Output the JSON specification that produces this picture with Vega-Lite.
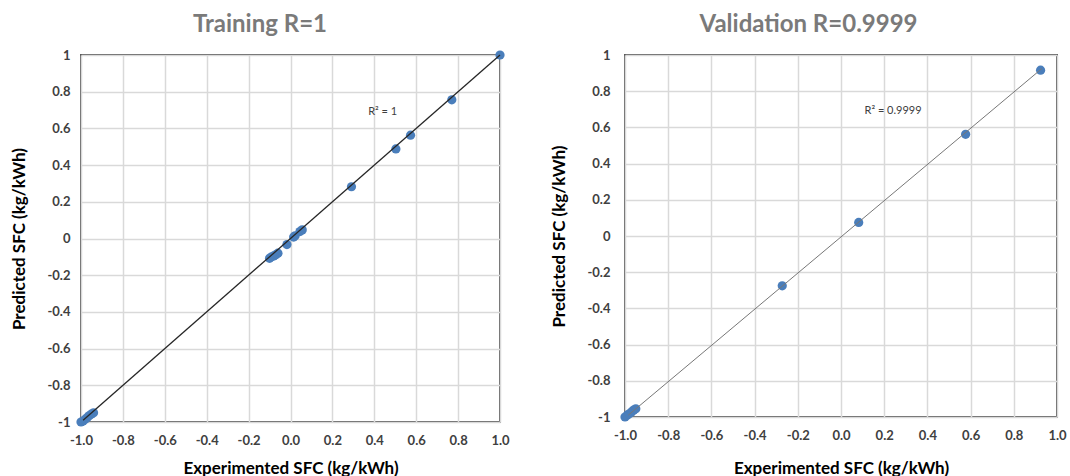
{
  "$schema": "https://vega.github.io/schema/vega-lite/v6.json",
  "background": "white",
  "padding": {"left": 9, "top": 12, "right": 5, "bottom": 0},
  "bounds": "flush",
  "spacing": 125,
  "datasets": {
    "train": [
      {"exp": 1.0, "pred": 1.0},
      {"exp": 0.77, "pred": 0.756},
      {"exp": 0.573, "pred": 0.563},
      {"exp": 0.503, "pred": 0.488},
      {"exp": 0.291, "pred": 0.282},
      {"exp": 0.056, "pred": 0.047},
      {"exp": 0.045, "pred": 0.038},
      {"exp": 0.022, "pred": 0.015},
      {"exp": 0.015, "pred": 0.008},
      {"exp": -0.017, "pred": -0.033},
      {"exp": -0.06, "pred": -0.08},
      {"exp": -0.07, "pred": -0.088},
      {"exp": -0.08, "pred": -0.095},
      {"exp": -0.09, "pred": -0.1},
      {"exp": -0.1, "pred": -0.108},
      {"exp": -1.0, "pred": -1.0},
      {"exp": -0.99, "pred": -0.995},
      {"exp": -0.98, "pred": -0.985},
      {"exp": -0.97, "pred": -0.975},
      {"exp": -0.96, "pred": -0.965},
      {"exp": -0.95, "pred": -0.957},
      {"exp": -0.94, "pred": -0.95}
    ],
    "trainLine": [
      {"exp": -0.99, "pred": -0.99},
      {"exp": 1.0, "pred": 1.0}
    ],
    "trainR2": [
      {"exp": 0.44, "pred": 0.69, "label": "R² = 1"}
    ],
    "val": [
      {"exp": 0.924, "pred": 0.916},
      {"exp": 0.577, "pred": 0.562},
      {"exp": 0.082, "pred": 0.075},
      {"exp": -0.272, "pred": -0.275},
      {"exp": -1.0, "pred": -1.0},
      {"exp": -0.99, "pred": -0.99},
      {"exp": -0.98, "pred": -0.982},
      {"exp": -0.97, "pred": -0.972},
      {"exp": -0.96, "pred": -0.962},
      {"exp": -0.95, "pred": -0.955}
    ],
    "valLine": [
      {"exp": -0.985, "pred": -0.99},
      {"exp": 0.93, "pred": 0.925}
    ],
    "valR2": [
      {"exp": 0.241, "pred": 0.688, "label": "R² = 0.9999"}
    ]
  },
  "hconcat": [
    {
      "width": 419,
      "height": 367,
      "title": {"text": "Training R=1", "frame": "bounds", "anchor": "middle", "offset": 12},
      "encoding": {
        "x": {"field": "exp", "type": "quantitative", "scale": {"domain": [-1, 1], "nice": false, "zero": false},
          "axis": {"title": "Experimented SFC (kg/kWh)", "values": [-1, -0.8, -0.6, -0.4, -0.2, 0, 0.2, 0.4, 0.6, 0.8, 1],
            "labelExpr": "replace(format(datum.value, '.1f'), '\u2212', '-')", "labelPadding": 12, "titlePadding": 13,
            "labelOverlap": false, "labelFlush": false, "labelBound": false}},
        "y": {"field": "pred", "type": "quantitative", "scale": {"domain": [-1, 1], "nice": false, "zero": false},
          "axis": {"title": "Predicted SFC (kg/kWh)", "values": [-1, -0.8, -0.6, -0.4, -0.2, 0, 0.2, 0.4, 0.6, 0.8, 1],
            "labelExpr": "'' + datum.value", "labelPadding": 11, "titlePadding": 18,
            "labelOverlap": false, "labelFlush": false, "labelBound": false}}
      },
      "layer": [
        {
          "data": {"name": "train"},
          "mark": {"type": "circle", "size": 85, "opacity": 1, "color": "#4a7ebb"}
        },
        {
          "data": {"name": "trainLine"},
          "mark": {"type": "line", "color": "#262626", "strokeWidth": 1.3}
        },
        {
          "data": {"name": "trainR2"},
          "mark": {"type": "text", "font": "Lato", "fontSize": 11, "color": "#404040"},
          "encoding": {"text": {"field": "label"}}
        }
      ]
    },
    {
      "width": 432,
      "height": 362,
      "title": {"text": "Validation R=0.9999", "frame": "bounds", "anchor": "middle", "offset": 12},
      "encoding": {
        "x": {"field": "exp", "type": "quantitative", "scale": {"domain": [-1, 1], "nice": false, "zero": false},
          "axis": {"title": "Experimented SFC (kg/kWh)", "values": [-1, -0.8, -0.6, -0.4, -0.2, 0, 0.2, 0.4, 0.6, 0.8, 1],
            "labelExpr": "replace(format(datum.value, '.1f'), '\u2212', '-')", "labelPadding": 12, "titlePadding": 18,
            "labelOverlap": false, "labelFlush": false, "labelBound": false}},
        "y": {"field": "pred", "type": "quantitative", "scale": {"domain": [-1, 1], "nice": false, "zero": false},
          "axis": {"title": "Predicted SFC (kg/kWh)", "values": [-1, -0.8, -0.6, -0.4, -0.2, 0, 0.2, 0.4, 0.6, 0.8, 1],
            "labelExpr": "'' + datum.value", "labelPadding": 15, "titlePadding": 18,
            "labelOverlap": false, "labelFlush": false, "labelBound": false}}
      },
      "layer": [
        {
          "data": {"name": "val"},
          "mark": {"type": "circle", "size": 85, "opacity": 1, "color": "#4a7ebb"}
        },
        {
          "data": {"name": "valLine"},
          "mark": {"type": "line", "color": "#777777", "strokeWidth": 1}
        },
        {
          "data": {"name": "valR2"},
          "mark": {"type": "text", "font": "Lato", "fontSize": 11, "color": "#404040"},
          "encoding": {"text": {"field": "label"}}
        }
      ]
    }
  ],
  "config": {
    "view": {"stroke": "#595959", "strokeWidth": 2},
    "title": {"font": "Lato", "fontSize": 24, "fontWeight": "bold", "color": "#7a7a7a"},
    "axis": {
      "labelFont": "Lato", "labelFontSize": 13, "labelFontWeight": "bold", "labelColor": "#404040",
      "titleFont": "Lato", "titleFontSize": 17, "titleFontWeight": "bold", "titleColor": "#000000",
      "gridColor": "#d9d9d9", "gridWidth": 1.5, "gridOpacity": 1,
      "domain": false, "ticks": false, "tickSize": 0, "labelOverlap": false
    },
    "axisY": {"labelOverlap": false}
  }
}
